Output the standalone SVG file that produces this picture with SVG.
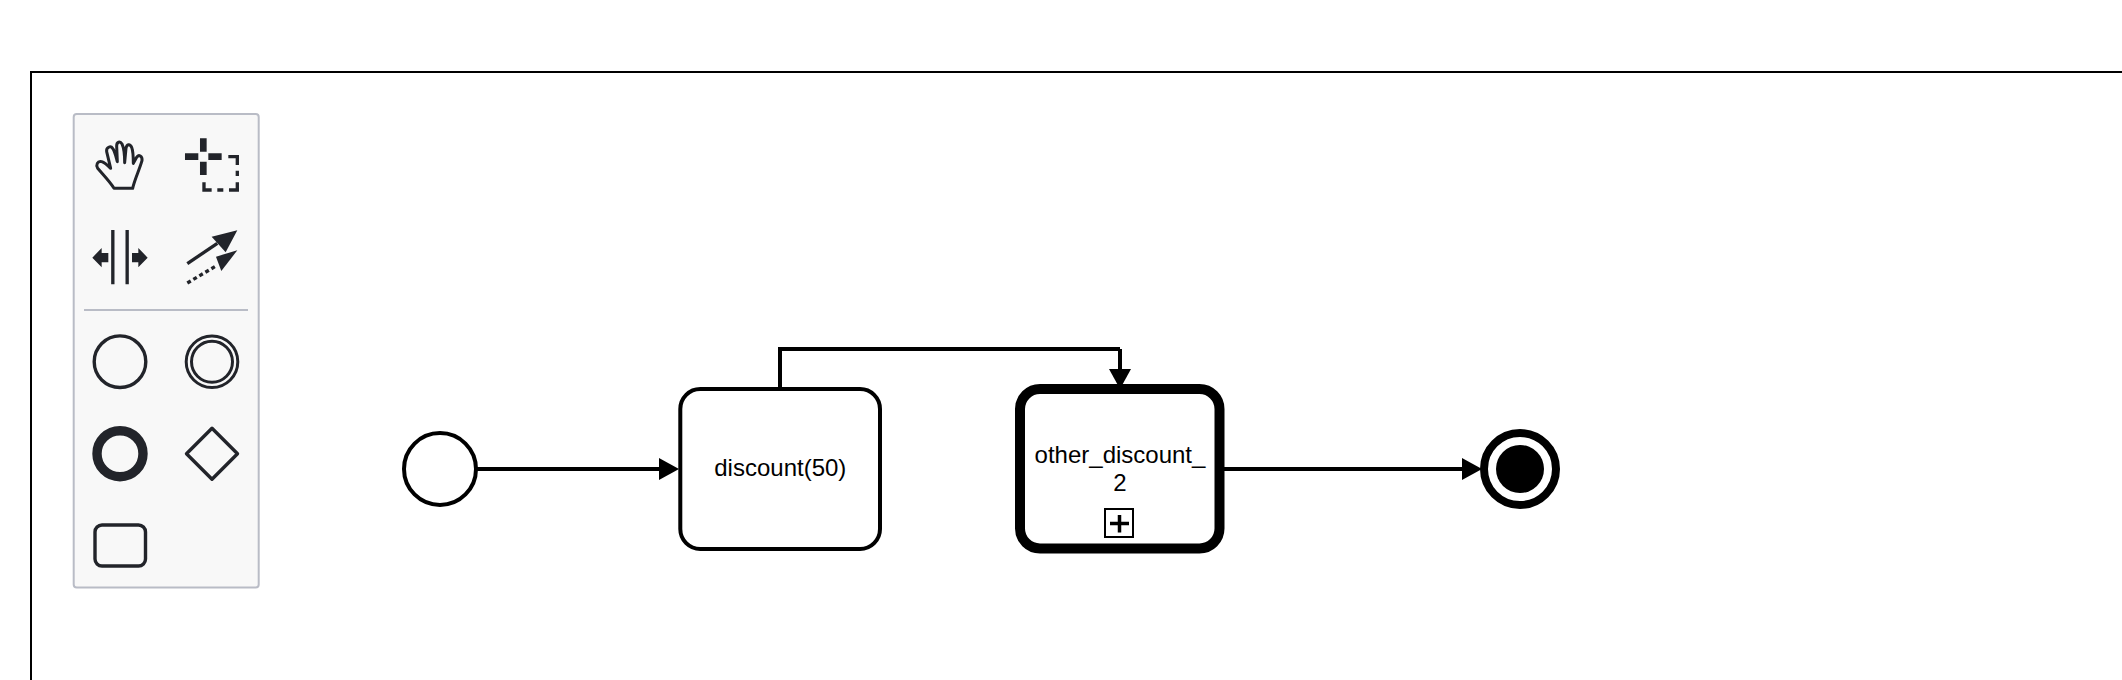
<svg xmlns="http://www.w3.org/2000/svg" width="2122" height="680" viewBox="0 0 2122 680">
<style>
.lbl{font-family:"Liberation Sans",Arial,sans-serif;font-size:24px;fill:#000;text-anchor:middle}
.node{fill:#fff;stroke:#000;stroke-width:4}
.conn{fill:none;stroke:#000;stroke-width:4}
.pi{fill:none;stroke:#22242a;stroke-width:3.400}
.pf{fill:#22242a;stroke:none}
</style>
<defs>
<marker id="arrow" markerUnits="userSpaceOnUse" markerWidth="20" markerHeight="24" viewBox="0 0 20 24" refX="2" refY="12" orient="auto">
<path d="M0,1 L20,12 L0,23 Z" fill="#000"/>
</marker>
</defs>
<rect width="2122" height="680" fill="#fff"/>
<path id="frame" d="M2122,72 H31 V680" fill="none" stroke="#000" stroke-width="2"/>
<g id="palette">
<rect x="73.700" y="114" width="185" height="473.500" rx="3" fill="#f8f8f8" stroke="#b9bcc6" stroke-width="2"/>
<line x1="84" y1="310" x2="248" y2="310" stroke="#b9bcc6" stroke-width="2"/>
<g transform="translate(60 100) scale(.3333)">
<path fill="none" stroke="#22242a" stroke-width="9" stroke-linejoin="round" d="M162,265 L218,265 C224,238 238,210 246,182 C248,168 236,162 230,172 L220,190 C220,170 220,155 215,142 C210,130 200,132 198,145 L194,188 C194,165 192,145 186,132 C180,122 170,126 170,138 L172,185 C168,170 165,155 158,145 C152,136 138,142 140,155 L152,205 C145,198 135,188 125,185 C112,182 107,195 113,205 C130,225 150,245 162,265 Z"/>
<path class="pf" d="M375,160h40v20h-40zM445,160h40v20h-40zM420,115h20v40h-20zM420,185h20v40h-20z"/>
<path fill="none" stroke="#22242a" stroke-width="10" d="M505,170H532V195M532,212V228M532,247V270H507M490,270H472M455,270H432V247"/>
<path fill="none" stroke="#22242a" stroke-width="10" d="M158.500,390V553M201.500,390V553"/>
<path class="pf" d="M97,473L125,444V459H145V487H125V502ZM263,473L235,444V459H216V487H235V502Z"/>
<path fill="none" stroke="#22242a" stroke-width="10" d="M382,491L472,430"/>
<path class="pf" d="M532,391L455,410L497,457Z"/>
<path fill="none" stroke="#22242a" stroke-width="10" stroke-dasharray="12 9" d="M382,549L468,498"/>
<path class="pf" d="M532,451L468,470L484,513Z"/>
</g>
<circle class="pi" cx="120" cy="361.700" r="25.800"/>
<circle class="pi" cx="212" cy="361.700" r="25.800" style="stroke-width:3"/>
<circle class="pi" cx="212" cy="361.700" r="20.500" style="stroke-width:3"/>
<circle class="pi" cx="120" cy="453.700" r="23" style="stroke-width:9.400"/>
<path class="pi" stroke-linejoin="round" d="M212,428.200L237.500,453.700L212,479.200L186.500,453.700Z"/>
<rect class="pi" x="95" y="525" width="50.500" height="41" rx="7"/>
</g>
<g id="start">
<circle class="node" cx="440" cy="469" r="36"/>
</g>
<g id="task-discount">
<rect class="node" x="680.300" y="389" width="199.700" height="160" rx="20"/>
<text class="lbl" x="780.300" y="476">discount(50)</text>
</g>
<g id="subprocess-other-discount">
<rect class="node" x="1020" y="389" width="199.500" height="159.500" rx="20" style="stroke-width:10"/>
<text class="lbl" x="1120" y="463">other_discount_</text>
<text class="lbl" x="1120" y="491">2</text>
<rect x="1105" y="509" width="28" height="28" fill="none" stroke="#000" stroke-width="2"/>
<path d="M1119.500,515V532.500M1110,523.500H1129" fill="none" stroke="#000" stroke-width="3.500"/>
</g>
<g id="end">
<circle class="node" cx="1520" cy="469" r="36" style="stroke-width:8"/>
<circle cx="1520" cy="469" r="24" fill="#000"/>
</g>
<g id="connectors">
<path class="conn" marker-end="url(#arrow)" d="M476,469H661"/>
<path class="conn" d="M780,389V349H1120"/>
<path class="conn" marker-end="url(#arrow)" d="M1120,349V371"/>
<path class="conn" marker-end="url(#arrow)" d="M1224,469H1464"/>
</g>
</svg>
